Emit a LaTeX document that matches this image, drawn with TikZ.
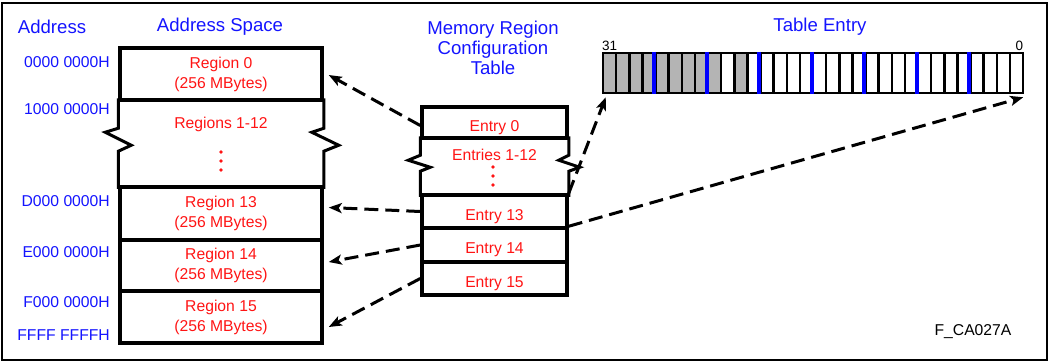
\documentclass[tikz,border=0pt]{standalone}
\usepackage{fontspec}
\setmainfont{Liberation Sans}
\usetikzlibrary{arrows.meta,calc,positioning}

\definecolor{hdrblue}{RGB}{20,20,255}
\definecolor{txtred}{RGB}{255,20,20}
\definecolor{bitgray}{RGB}{180,180,180}

\begin{document}
\begin{tikzpicture}
[x=1pt, y=-1pt,
regbox/.style={rectangle, draw=black, line width=3.5pt, minimum width=202pt, align=center, text=txtred, font=\fontsize{15.7}{20}\selectfont, inner sep=0pt},
entrybox/.style={rectangle, draw=black, line width=3.5pt, minimum width=145pt, text height=17pt, text depth=0pt, text=txtred, font=\fontsize{15.7}{20}\selectfont, inner sep=0pt},
redlabel/.style={text=txtred, font=\fontsize{15.7}{20}\selectfont, inner sep=0pt},
header/.style={text=hdrblue, align=center, font=\fontsize{18.6}{19.7}\selectfont, inner sep=0pt},
addrlabel/.style={text=hdrblue, anchor=east, font=\fontsize{15.7}{20}\selectfont, inner sep=0pt},
bitcell/.style={rectangle, draw=black, line width=2.5pt, minimum width=13.125pt, minimum height=40pt, inner sep=0pt},
bitnum/.style={font=\fontsize{13.5}{15}\selectfont, inner sep=0pt, anchor=base},
nibble/.style={draw=blue, line width=4pt},
breakline/.style={draw=black, line width=3pt},
reddot/.style={fill=txtred, draw=none},
link/.style={line width=3pt, dash pattern=on 14pt off 7pt, -{Stealth[length=13pt, width=10pt, inset=3pt]}},
]
\useasboundingbox (0,0) rectangle (1049,362);
\draw[line width=2pt] (2,3) rectangle (1047,360);
%draw the headers
\node[header] (addrhdr) at (52,27) {Address};
\node[header] (spacehdr) at (220,27) {Address Space};
\node[header] (tablehdr) at (493,48) {Memory Region\\Configuration\\Table};
\node[header] (entryhdr) at (820,27) {Table Entry};
%draw the address space
\node[regbox, minimum height=52pt] (reg0) at (221,74) {Region 0\\(256 MBytes)};
\node[regbox, draw=none, minimum height=87pt] (reg1) at (221,143.5) {};
\node[redlabel] (reg1txt) at (221,124) {Regions 1-12};
\foreach \y in {152,161,170} \fill[reddot] (221,\y) circle (1.9);
\node[regbox, minimum height=53pt] (reg13) at (221,213.5) {Region 13\\(256 MBytes)};
\node[regbox, minimum height=51pt] (reg14) at (221,265.5) {Region 14\\(256 MBytes)};
\node[regbox, minimum height=52pt] (reg15) at (221,317) {Region 15\\(256 MBytes)};
\draw[breakline] (reg1.north west) -- ++(0,30) -- ++(-13,4) -- ++(26,13) -- ++(-13,6) -- (reg1.south west);
\draw[breakline] (reg1.north east) -- ++(0,30) -- ++(-12,4) -- ++(27,13) -- ++(-15,6) -- (reg1.south east);
%draw the addresses
\node[addrlabel] (addr0) at (110,62) {0000 0000H};
\node[addrlabel] (addr1) at (110,109) {1000 0000H};
\node[addrlabel] (addrd) at (110,201) {D000 0000H};
\node[addrlabel] (addre) at (110,252) {E000 0000H};
\node[addrlabel] (addrf) at (110,302) {F000 0000H};
\node[addrlabel] (addrend) at (110,335) {FFFF FFFFH};
%draw the configuration table
\node[entrybox, minimum height=31pt] (entry0) at (494.5,122.5) {Entry 0};
\node[entrybox, draw=none, minimum height=57pt] (entry1) at (494.5,166.5) {};
\node[redlabel] (entry1txt) at (494.5,155) {Entries 1-12};
\foreach \y in {167,176,185} \fill[reddot] (493,\y) circle (1.9);
\node[entrybox, minimum height=33pt] (entry13) at (494.5,211.5) {Entry 13};
\node[entrybox, minimum height=34pt] (entry14) at (494.5,245) {Entry 14};
\node[entrybox, minimum height=33pt] (entry15) at (494.5,278.5) {Entry 15};
\draw[breakline] (entry1.north west) -- ++(0,19) -- ++(-12,5) -- ++(22,7) -- ++(-10,4) -- (entry1.south west);
\draw[breakline] (entry1.north east) -- ++(0,19) -- ++(-10,5) -- ++(21,7) -- ++(-11,4) -- (entry1.south east);
%draw the table entry bits
\foreach \n in {0,...,31}{
  \ifnum\n=21 \def\bitfill{bitgray}\else\ifnum\n>22 \def\bitfill{bitgray}\else\def\bitfill{white}\fi\fi
  \node[bitcell, fill=\bitfill] (bit\n) at ({1016.44-13.125*\n},73) {};
}
\foreach \n in {27,23,...,3} \draw[nibble] (bit\n.north west) -- (bit\n.south west);
\node[bitnum] (msb) at ($(bit31.north)+(0,-1)$) {31};
\node[bitnum] (lsb) at ($(bit0.north)+(3,-1)$) {0};
%draw the links
\draw[link] ($(entry0.west)+(0,3)$) -- ($(reg0.east)+(5,1)$);
\draw[link] (entry13.west) -- ($(reg13.east)+(5,-6)$);
\draw[link] (entry14.west) -- ($(reg14.east)+(5,-3.5)$);
\draw[link] (entry15.west) -- ($(reg15.east)+(5,10)$);
\draw[link] (entry13.north east) -- ($(bit31.south west)+(4,3)$);
\draw[link] (entry14.north east) -- ($(bit0.south east)+(-1,3)$);
\node[font=\fontsize{15.7}{20}\selectfont, inner sep=0pt] (figid) at (973,332) {F\_CA027A};
\end{tikzpicture}
\end{document}
